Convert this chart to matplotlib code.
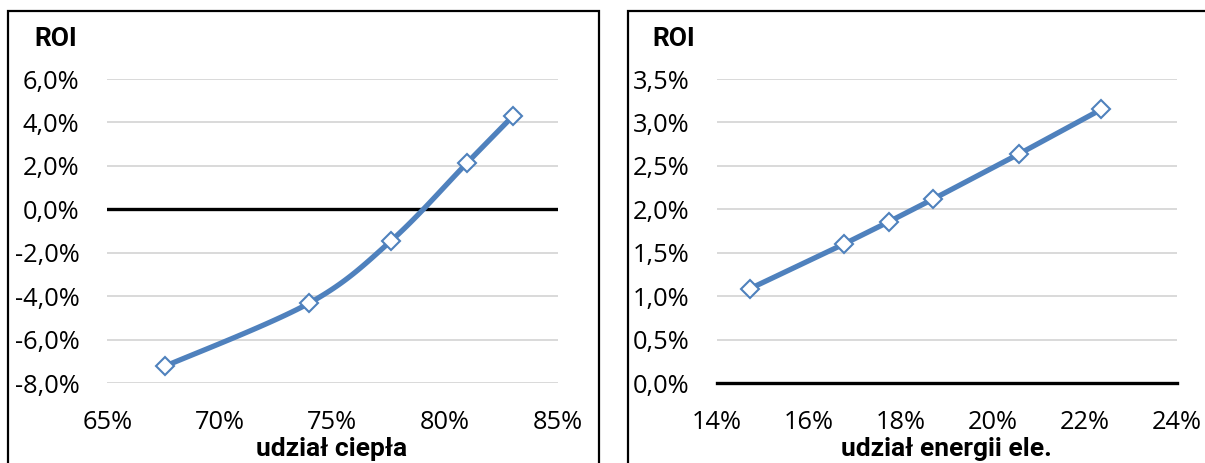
import numpy as np
import matplotlib
matplotlib.use("Agg")
import matplotlib.pyplot as plt
from matplotlib.ticker import FuncFormatter, MultipleLocator
from matplotlib.patches import Rectangle

# ---- data ----
heat_share = [67.55, 73.97, 77.6, 80.97, 83.0]          # %
heat_roi = [-7.22, -4.31, -1.45, 2.13, 4.28]             # %
elec_share = [14.72, 16.75, 17.74, 18.70, 20.57, 22.35]  # %
elec_roi = [1.09, 1.60, 1.86, 2.12, 2.64, 3.15]          # %

left_xlabel = "udział ciepła"
right_xlabel = "udział energii ele."
ylabel_text = "ROI"

W, H = 1205, 463
plt.rcParams['font.family'] = ['Open Sans', 'DejaVu Sans']
fig = plt.figure(figsize=(W / 100, H / 100), dpi=100)

BLUE = "#4F81BD"
GRID = "#D9D9D9"
TICK_FS = 18.3
BOLD_FS = 19
BOLD_FAMILY = ['Roboto', 'DejaVu Sans']


def smooth(xs, ys, n=30):
    xs = np.asarray(xs, float)
    ys = np.asarray(ys, float)
    P = np.column_stack([xs, ys])
    out = [P[0]]
    for i in range(len(P) - 1):
        p0 = P[i - 1] if i > 0 else P[i]
        p1 = P[i]
        p2 = P[i + 1]
        p3 = P[i + 2] if i + 2 < len(P) else P[i + 1]
        c1 = p1 + (p2 - p0) / 6.0
        c2 = p2 - (p3 - p1) / 6.0
        t = np.linspace(0, 1, n)[1:, None]
        seg = ((1 - t) ** 3) * p1 + 3 * ((1 - t) ** 2) * t * c1 + 3 * (1 - t) * t ** 2 * c2 + t ** 3 * p2
        out.extend(seg)
    out = np.array(out)
    return out[:, 0], out[:, 1]


def px_axes(x0, x1, y0, y1):
    return fig.add_axes([x0 / W, 1 - y1 / H, (x1 - x0) / W, (y1 - y0) / H])


def style(ax, ydec):
    for s in ax.spines.values():
        s.set_visible(False)
    ax.grid(axis='y', color=GRID, linewidth=1.4)
    ax.grid(axis='x', visible=False)
    ax.set_axisbelow(True)
    ax.tick_params(length=0, labelsize=TICK_FS)
    ax.tick_params(axis='y', pad=20)
    ax.tick_params(axis='x', pad=19.5)
    ax.yaxis.set_major_formatter(FuncFormatter(
        lambda v, p: (f"{v:.{ydec}f}%").replace('.', ',').replace('\u2212', '-')))
    ax.xaxis.set_major_formatter(FuncFormatter(lambda v, p: f"{v:.0f}%"))


# ---- left panel ----
axL = px_axes(107.2, 557.6, 79, 383.3)
axL.set_xlim(65, 85)
axL.set_ylim(-8, 6)
axL.xaxis.set_major_locator(MultipleLocator(5))
axL.yaxis.set_major_locator(MultipleLocator(2))
style(axL, 1)
axL.axhline(0, color='black', linewidth=2.4, zorder=2)
sx, sy = smooth(heat_share, heat_roi)
axL.plot(sx, sy, color=BLUE, linewidth=3.8, solid_capstyle='round', zorder=3)
axL.plot(heat_share, heat_roi, linestyle='none', marker='D', markersize=9.5,
         markerfacecolor='white', markeredgecolor=BLUE, markeredgewidth=1.5, zorder=4)

# ---- right panel ----
axR = px_axes(717.1, 1177.1, 79, 383.3)
axR.set_xlim(14, 24)
axR.set_ylim(0, 3.5)
axR.xaxis.set_major_locator(MultipleLocator(2))
axR.yaxis.set_major_locator(MultipleLocator(0.5))
style(axR, 1)
axR.axhline(0, color='black', linewidth=2.4, zorder=2, clip_on=False)
axR.plot(elec_share, elec_roi, color=BLUE, linewidth=3.8, solid_capstyle='round', zorder=3)
axR.plot(elec_share, elec_roi, linestyle='none', marker='D', markersize=9.5,
         markerfacecolor='white', markeredgecolor=BLUE, markeredgewidth=1.5, zorder=4)

# ---- titles / labels ----
fig.text(34 / W, 1 - 38.5 / H, ylabel_text, fontsize=BOLD_FS, fontweight='bold',
         family=BOLD_FAMILY, ha='left', va='center')
fig.text(652 / W, 1 - 38.5 / H, ylabel_text, fontsize=BOLD_FS, fontweight='bold',
         family=BOLD_FAMILY, ha='left', va='center')
fig.text(332 / W, 1 - 449 / H, left_xlabel, fontsize=BOLD_FS, fontweight='bold',
         family=BOLD_FAMILY, ha='center', va='center')
fig.text(946 / W, 1 - 449 / H, right_xlabel, fontsize=BOLD_FS, fontweight='bold',
         family=BOLD_FAMILY, ha='center', va='center')

# ---- chart frames ----
fig.patches.append(Rectangle((8 / W, -0.1), (599 - 8) / W, 1.1 - 11 / H,
                             transform=fig.transFigure, fill=False,
                             edgecolor='black', linewidth=1.6))
fig.patches.append(Rectangle((628 / W, -0.1), 0.6, 1.1 - 11 / H,
                             transform=fig.transFigure, fill=False,
                             edgecolor='black', linewidth=1.6))

fig.savefig("out.png", dpi=100)
